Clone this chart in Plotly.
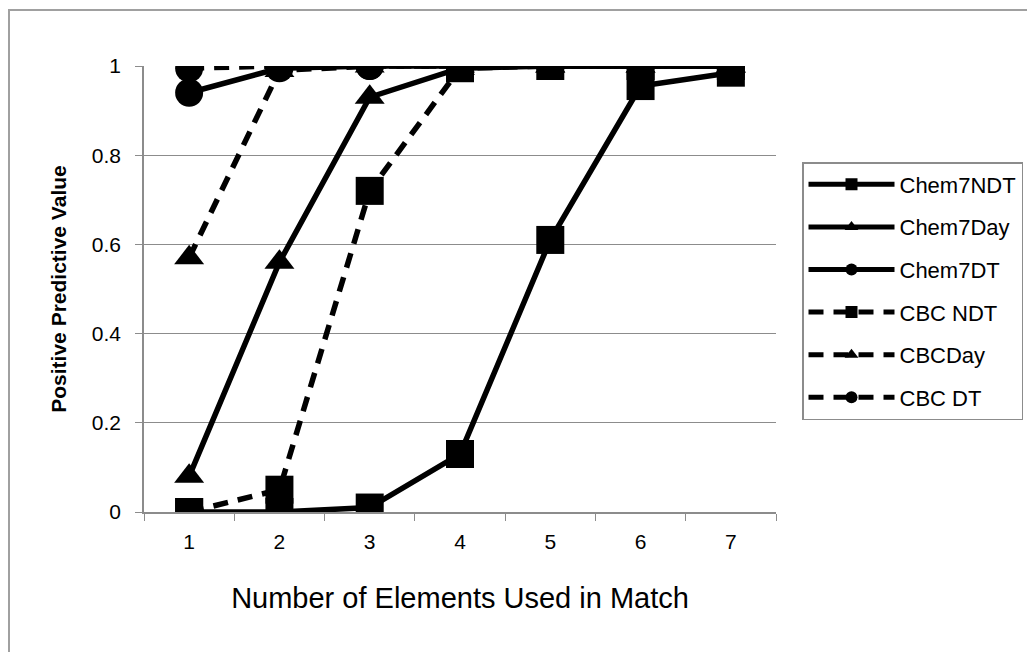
import plotly.graph_objects as go

elements = [1, 2, 3, 4, 5, 6, 7]
chem7_ndt = [0.0, 0.0, 0.01, 0.13, 0.61, 0.955, 0.985]
chem7_day = [0.08, 0.56, 0.93, 0.995, 1.0, 1.0, 1.0]
chem7_dt = [0.94, 0.995, 1.0, 1.0, 1.0, 1.0, 1.0]
cbc_ndt = [0.0, 0.05, 0.72, 0.995, 1.0, 1.0, 1.0]
cbc_day = [0.57, 0.99, 1.0, 1.0, 1.0, 1.0, 1.0]
cbc_dt = [0.995, 1.0, 1.0, 1.0, 1.0, 1.0, 1.0]

series = [
    ("Chem7NDT", chem7_ndt, "square", "solid"),
    ("Chem7Day", chem7_day, "triangle-up", "solid"),
    ("Chem7DT", chem7_dt, "circle", "solid"),
    ("CBC NDT", cbc_ndt, "square", "15px,10px"),
    ("CBCDay", cbc_day, "triangle-up", "15px,10px"),
    ("CBC DT", cbc_dt, "circle", "15px,10px"),
]

FONT = "Liberation Sans, Arial, sans-serif"
fig = go.Figure()
for i, (name, vals, sym, dash) in enumerate(series):
    fig.add_trace(go.Scatter(
        x=elements, y=vals, name=name, mode="lines+markers",
        line=dict(color="black", width=5.5, dash=dash),
        marker=dict(symbol=sym, size=28 if sym != "triangle-up" else 26, color="black"),
        legendgroup=f"g{i}",
    ))

# page body has an 8px margin, so margins are shifted accordingly
L, T, W, H = 136, 58, 632, 446
fig.update_layout(
    width=1035, height=652,
    margin=dict(l=L, r=1035 - L - W, t=T, b=652 - T - H),
    paper_bgcolor="white", plot_bgcolor="white",
    font=dict(family=FONT, color="black", size=21),
    showlegend=True,
    legend=dict(
        x=(802 - 144) / W, y=(512 - 162) / H, xanchor="left", yanchor="top",
        bordercolor="#8c8c8c", borderwidth=1.5,
        font=dict(size=22, family=FONT),
        itemsizing="constant", itemwidth=86,
        traceorder="grouped", tracegroupgap=11,
    ),
    xaxis=dict(
        range=[0.5, 7.5], tickmode="array", tickvals=elements,
        ticktext=[str(v) for v in elements],
        ticks="", showgrid=False, zeroline=False,
        showline=True, linecolor="#8c8c8c", linewidth=1.5,
        tickfont=dict(size=21), ticklabelstandoff=10,
        minor=dict(tickmode="array", tickvals=[0.5 + k for k in range(8)],
                   ticks="outside", ticklen=7, tickcolor="#8c8c8c", showgrid=False),
        title=dict(text="Number of Elements Used in Match", font=dict(size=29), standoff=36),
    ),
    yaxis=dict(
        range=[0, 1], tickmode="array", tickvals=[0, 0.2, 0.4, 0.6, 0.8, 1],
        ticktext=["0", "0.2", "0.4", "0.6", "0.8", "1"],
        ticks="outside", ticklen=7, tickcolor="#8c8c8c",
        showgrid=True, gridcolor="#8c8c8c", gridwidth=1,
        zeroline=False, showline=True, linecolor="#8c8c8c", linewidth=1.5,
        tickfont=dict(size=21), ticklabelstandoff=10,
        title=dict(text="<b>Positive Predictive Value</b>", font=dict(size=21), standoff=19),
    ),
    shapes=[dict(type="rect", xref="paper", yref="paper",
                 x0=(1 - L) / W, x1=1.7,
                 y0=-0.5, y1=(T + H - 2) / H,
                 line=dict(color="#a0a0a0", width=2), layer="below")],
)

fig.write_html("out.html")
